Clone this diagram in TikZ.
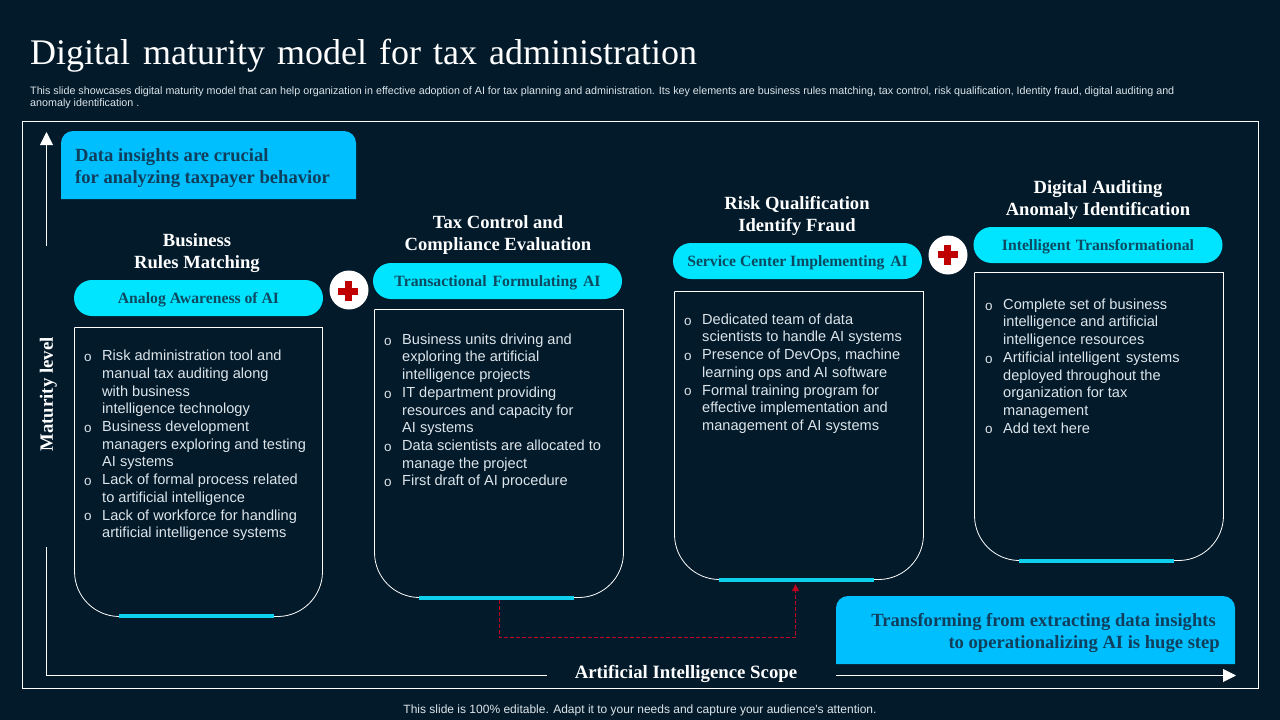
\documentclass[tikz,border=0pt]{standalone}
\usepackage{xcolor}
\usepackage{fontspec}
\setmainfont{Liberation Serif}
\newfontfamily\bodyfont{Liberation Sans}
\usetikzlibrary{arrows.meta}
\definecolor{slidebg}{HTML}{021A2A}
\definecolor{calloutblue}{HTML}{00BFFF}
\definecolor{pillcyan}{HTML}{00E5FF}
\definecolor{barcyan}{HTML}{0FD0EC}
\definecolor{darkteal}{HTML}{0F3F5C}
\definecolor{pilltext}{HTML}{0B4A60}
\definecolor{crossred}{HTML}{C00000}
\definecolor{linkred}{HTML}{C00020}
\definecolor{bodygrey}{HTML}{DDE5EA}
\newcommand{\bulitem}[1]{\makebox[18.5pt][l]{\hspace{0.5pt}\raisebox{-0.8pt}{\fontsize{13.5}{15}\selectfont o}}#1}
\newcommand{\bulcont}[1]{\hspace*{18.5pt}#1}
\tikzset{
  heading/.style={text=white, font=\fontsize{18.6}{22}\selectfont\bfseries, align=center, inner sep=0pt},
  pill/.style={fill=pillcyan, rounded corners=18pt, minimum width=249pt, minimum height=36pt, inner sep=0pt,
    text height=11.2pt, text depth=0pt, text=pilltext, font=\fontsize{15.7}{17}\selectfont\bfseries},
  bodybox/.style={draw=white, line width=0.8pt},
  bodytext/.style={text=bodygrey, font=\bodyfont\fontsize{14.6}{17.7}\selectfont, align=left, anchor=north west, inner sep=0pt},
  bar/.style={fill=barcyan, minimum width=155pt, minimum height=4pt, inner sep=0pt},
  callout/.style={fill=calloutblue},
  callouttext/.style={text=darkteal, font=\fontsize{18.6}{22}\selectfont\bfseries, inner sep=0pt},
  axisline/.style={draw=white, line width=0.9pt},
  linkline/.style={draw=linkred, line width=1.2pt, dash pattern=on 4pt off 2pt},
  plusdisc/.style={circle, fill=white, minimum size=39pt, inner sep=0pt},
  redcross/.style={fill=crossred, minimum width=#1, inner sep=0pt}
}
\begin{document}
\begin{tikzpicture}[x=1pt, y=-1pt]
  \useasboundingbox (0,0) rectangle (1280,720);
  \fill[slidebg] (0,0) rectangle (1280,720);

  % Title and sub text
  \node[text=white, anchor=west, inner sep=0pt, font=\fontsize{36}{42}\selectfont] (title) at (30,56)
    {Digital\hspace{4pt} maturity\hspace{3pt} model\hspace{3pt} for\hspace{3pt} tax\hspace{3pt} administration};
  \node[text=bodygrey, anchor=north west, inner sep=0pt, align=left, font=\bodyfont\fontsize{10.73}{12.2}\selectfont] (subtext) at (30,86.5)
    {This slide showcases digital maturity model that can help organization in effective adoption of AI for tax planning and administration. Its key elements are business rules matching, tax control, risk qualification, Identity fraud, digital auditing and\\
     anomaly identification .};

  % Outer frame
  \draw[draw=white, line width=0.9pt] (22.5,121.5) rectangle (1258.5,688.5);

  % Callouts with rounded top or bottom
  \fill[callout, rounded corners=12pt] (61,199) [sharp corners] -- (61,199) [rounded corners=12pt] -- (61,131) -- (356,131) [sharp corners] -- (356,199) -- cycle;
  \node[callouttext, anchor=west, align=left] (insight) at (75,168.5) {Data insights are crucial\\for analyzing taxpayer behavior};
  \fill[callout, rounded corners=12pt] (836,664) -- (836,596) -- (1235,596) [sharp corners] -- (1235,664) -- cycle;
  \node[callouttext, anchor=east, align=right] (step) at (1220,632.5) {Transforming from extracting data insights\hspace*{4pt}\\to operationalizing AI is huge step};

  % Axes
  \node[text=white, rotate=90, font=\fontsize{18.8}{20}\selectfont\bfseries, inner sep=0pt] (ylabel) at (48.5,394.5) {Maturity level};
  \node[text=white, font=\fontsize{18.8}{20}\selectfont\bfseries, inner sep=0pt] (xlabel) at (686,674) {Artificial Intelligence Scope};
  \coordinate (ytop) at (46.5,132);
  \coordinate (ybreak) at (46.5,246);
  \coordinate (ylow) at (46.5,547);
  \coordinate (origin) at (46.5,675.5);
  \coordinate (xbreak) at (547,675.5);
  \coordinate (xstart) at (836,675.5);
  \coordinate (xend) at (1236,675.5);
  \draw[axisline, -{Triangle[length=13pt,width=13pt]}] (ybreak) -- (ytop);
  \draw[axisline] (ylow) -- (origin) -- (xbreak);
  \draw[axisline, -{Triangle[length=13pt,width=13pt]}] (xstart) -- (xend);

  % Column one
  \node[heading] (headone) at (197,253.5) {Business\\Rules Matching};
  \node[pill] (pillone) at (198.5,298) {Analog Awareness of AI};
  \draw[bodybox, rounded corners=45pt] (74.5,327.5) [sharp corners] -- (322.5,327.5) [rounded corners=45pt] -- (322.5,616.5) -- (74.5,616.5) [sharp corners] -- (74.5,327.5);
  \node[bar] (barone) at (196.5,616) {};
  \node[bodytext] (textone) at (83.5,350)
    {\bulitem{Risk administration tool and}\\
     \bulcont{manual tax auditing along}\\
     \bulcont{with business}\\
     \bulcont{intelligence technology}\\
     \bulitem{Business development}\\
     \bulcont{managers exploring and testing}\\
     \bulcont{AI systems}\\
     \bulitem{Lack of formal process related}\\
     \bulcont{to artificial intelligence}\\
     \bulitem{Lack of workforce for handling}\\
     \bulcont{artificial intelligence systems}};

  % Column two
  \node[heading] (headtwo) at (498,235.5) {Tax Control and\\Compliance Evaluation};
  \node[pill] (pilltwo) at (497.5,281) {Transactional\hspace{2pt} Formulating\hspace{2pt} AI};
  \draw[bodybox, rounded corners=45pt] (374.5,309.5) [sharp corners] -- (623.5,309.5) [rounded corners=45pt] -- (623.5,597.5) -- (374.5,597.5) [sharp corners] -- (374.5,309.5);
  \node[bar] (bartwo) at (496.5,598) {};
  \node[bodytext] (texttwo) at (383.5,333.5)
    {\bulitem{Business units driving and}\\
     \bulcont{exploring the artificial}\\
     \bulcont{intelligence projects}\\
     \bulitem{IT department providing}\\
     \bulcont{resources and capacity for}\\
     \bulcont{AI systems}\\
     \bulitem{Data scientists are allocated to}\\
     \bulcont{manage the project}\\
     \bulitem{First draft of AI procedure}};

  % Column three
  \node[heading] (headthree) at (797,215.5) {Risk Qualification\\Identify Fraud};
  \node[pill] (pillthree) at (797.5,261) {Service Center Implementing\hspace{2pt} AI};
  \draw[bodybox, rounded corners=45pt] (674.5,291.5) [sharp corners] -- (923.5,291.5) [rounded corners=45pt] -- (923.5,579.5) -- (674.5,579.5) [sharp corners] -- (674.5,291.5);
  \node[bar] (barthree) at (796.5,579.5) {};
  \node[bodytext] (textthree) at (683.5,313.5)
    {\bulitem{Dedicated team of data}\\
     \bulcont{scientists to handle AI systems}\\
     \bulitem{Presence of DevOps, machine}\\
     \bulcont{learning ops and AI software}\\
     \bulitem{Formal training program for}\\
     \bulcont{effective implementation and}\\
     \bulcont{management of AI systems}};

  % Column four
  \node[heading] (headfour) at (1098,200.5) {Digital Auditing\\Anomaly Identification};
  \node[pill] (pillfour) at (1098,245) {Intelligent\hspace{1pt} Transformational};
  \draw[bodybox, rounded corners=45pt] (974.5,272.5) [sharp corners] -- (1223.5,272.5) [rounded corners=45pt] -- (1223.5,560.5) -- (974.5,560.5) [sharp corners] -- (974.5,272.5);
  \node[bar] (barfour) at (1096.5,561) {};
  \node[bodytext] (textfour) at (984.5,298.5)
    {\bulitem{Complete set of business}\\
     \bulcont{intelligence and artificial}\\
     \bulcont{intelligence resources}\\
     \bulitem{Artificial intelligent\hspace{2pt} systems}\\
     \bulcont{deployed throughout the}\\
     \bulcont{organization for tax}\\
     \bulcont{management}\\
     \bulitem{Add text here}};

  % Plus signs
  \node[plusdisc] (plusone) at (349,290) {};
  \node[redcross=20pt, minimum height=7pt] at (348,291) {};
  \node[redcross=7pt, minimum height=20pt] at (348,291) {};
  \node[plusdisc] (plustwo) at (948,255) {};
  \node[redcross=20pt, minimum height=7pt] at (947.5,254.5) {};
  \node[redcross=7pt, minimum height=20pt] at (947.5,254.5) {};

  % Dashed link
  \draw[linkline, shorten >=2.5pt, -{Triangle[length=7pt,width=7pt]}]
    ([xshift=3pt]bartwo.south) -- ++(0,37.5) -| ([xshift=-1pt]barthree.south);

  % Footer
  \node[text=bodygrey, inner sep=0pt, font=\bodyfont\fontsize{12}{14}\selectfont] (footer) at (640,710.5)
    {This slide is 100\% editable. Adapt it to your needs and capture your audience's attention.};
\end{tikzpicture}
\end{document}
